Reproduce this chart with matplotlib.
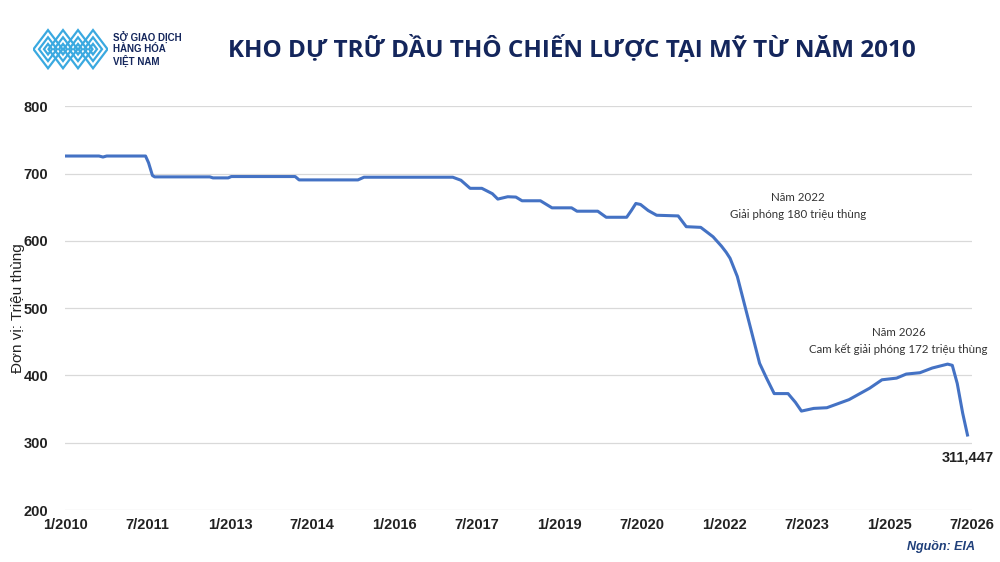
import matplotlib.pyplot as plt
import matplotlib.patches as mpatches
import pandas as pd

# ===============================
# DATA (triệu thùng)
# ===============================
dates = [
    "2010-01-01", "2010-08-15", "2010-09-10", "2010-10-05", "2011-06-20",
    "2011-07-10", "2011-08-05", "2011-08-20", "2012-08-20", "2012-09-10",
    "2012-12-20", "2013-01-10", "2014-03-10", "2014-04-05", "2015-05-01",
    "2015-06-10", "2017-01-20", "2017-03-15", "2017-05-15", "2017-08-01",
    "2017-10-10", "2017-11-15", "2018-01-20", "2018-03-15", "2018-04-25",
    "2018-08-25", "2018-11-10", "2019-03-20", "2019-04-25", "2019-09-10",
    "2019-11-05", "2020-03-20", "2020-04-20", "2020-05-20", "2020-06-20",
    "2020-08-10", "2020-10-05", "2021-02-25", "2021-04-20", "2021-07-25",
    "2021-09-10", "2021-10-15", "2021-12-10", "2022-01-10", "2022-02-05",
    "2022-03-25", "2022-05-10", "2022-06-25", "2022-08-20", "2022-10-05",
    "2022-11-25", "2023-02-25", "2023-04-15", "2023-05-25", "2023-07-05",
    "2023-08-15", "2023-11-10", "2024-04-05", "2024-08-20", "2024-11-10",
    "2025-02-15", "2025-04-20", "2025-07-20", "2025-10-10", "2026-01-20",
    "2026-02-20", "2026-03-25", "2026-04-30", "2026-06-01",
]
values = [
    726, 726, 724.5, 726, 726,
    716, 697, 695, 695, 693.5,
    693.5, 695.5, 695.5, 690.5, 690.5,
    694.5, 694.5, 690, 678, 678,
    670, 662, 665.5, 665, 659.5,
    659.5, 649, 649, 644, 644,
    635, 635, 645, 655.5, 654,
    645, 638, 637, 621, 620,
    612, 606, 592, 583, 574,
    547, 507, 467, 418, 396,
    373, 373, 360, 347, 349,
    351, 352, 364, 381, 393.5,
    396, 402, 404, 411, 416.8,
    415, 388, 344, 311.447,
]

tick_dates = ["2010-01-01", "2011-07-01", "2013-01-01", "2014-07-01",
              "2016-01-01", "2017-07-01", "2019-01-01", "2020-07-01",
              "2022-01-01", "2023-07-01", "2025-01-01", "2026-07-01"]
tick_labels = ["1/2010", "7/2011", "1/2013", "7/2014", "1/2016", "7/2017",
               "1/2019", "7/2020", "1/2022", "7/2023", "1/2025", "7/2026"]
y_ticks = [200, 300, 400, 500, 600, 700, 800]

plt.rcParams['font.family'] = ['Liberation Sans', 'DejaVu Sans']

x = pd.to_datetime(dates)
navy = "#14265c"

fig = plt.figure(figsize=(10, 5.62), dpi=100)
ax = fig.add_axes([0.065, 0.0925, 0.907, 0.7185])

ax.plot(x, values, color="#4472C4", linewidth=2.2, solid_joinstyle="round")

ax.set_ylim(200, 800)
ax.set_yticks(y_ticks)
ax.set_xlim(pd.Timestamp("2010-01-01"), pd.Timestamp("2026-07-01"))
ax.set_xticks(pd.to_datetime(tick_dates))
ax.set_xticklabels(tick_labels)
ax.grid(axis="y", color="#d9d9d9", linewidth=0.9)
ax.set_axisbelow(True)
for s in ax.spines.values():
    s.set_visible(False)
ax.tick_params(axis="both", length=0, labelsize=10.5, colors="#222222")
ax.tick_params(axis="y", pad=12)
ax.tick_params(axis="x", pad=6)
for lbl in ax.get_xticklabels() + ax.get_yticklabels():
    lbl.set_fontweight("bold")

fig.text(0.018, 0.452, "Đơn vị: Triệu thùng", rotation=90, ha="center",
         va="center", fontsize=11, color="#222222")

# chú thích
ann_font = ["Lato", "DejaVu Sans"]
ax.annotate("Năm 2022\nGiải phóng 180 triệu thùng",
            xy=(pd.Timestamp("2023-05-01"), 652), ha="center", va="center",
            fontsize=8.3, color="#333333", family=ann_font, linespacing=1.6)
ax.annotate("Năm 2026\nCam kết giải phóng 172 triệu thùng",
            xy=(pd.Timestamp("2025-03-01"), 451), ha="center", va="center",
            fontsize=8.3, color="#333333", family=ann_font, linespacing=1.6)
ax.annotate("311,447", xy=(x[-1], values[-1]), xytext=(0, -16),
            textcoords="offset points", ha="center", va="center",
            fontsize=10.5, fontweight="bold", color="#222222")

fig.text(0.975, 0.028, "Nguồn: EIA", ha="right", va="center", fontsize=9,
         fontweight="bold", fontstyle="italic", color="#1f3f7a")

# tiêu đề
fig.text(0.572, 0.912, "KHO DỰ TRỮ DẦU THÔ CHIẾN LƯỢC TẠI MỸ TỪ NĂM 2010",
         ha="center", va="center", fontsize=17.5, fontweight="bold",
         color=navy, family=["Open Sans", "DejaVu Sans"])

# logo (đơn giản hóa)
lax = fig.add_axes([0.033, 0.875, 0.075, 0.075])
lax.set_xlim(0, 7.5)
lax.set_ylim(-1.6, 1.6)
lax.axis("off")
for cx in [1.5, 3.0, 4.5, 6.0]:
    for r in [1.45, 0.9, 0.4]:
        d = mpatches.Polygon([(cx - r, 0), (cx, r), (cx + r, 0), (cx, -r)],
                             closed=True, fill=False, edgecolor="#3aa9e0",
                             linewidth=1.6)
        lax.add_patch(d)
fig.text(0.113, 0.912, "SỞ GIAO DỊCH\nHÀNG HÓA\nVIỆT NAM", ha="left",
         va="center", fontsize=7, fontweight="bold", color=navy,
         linespacing=1.0)

fig.savefig("out.png", dpi=100, facecolor="white")
